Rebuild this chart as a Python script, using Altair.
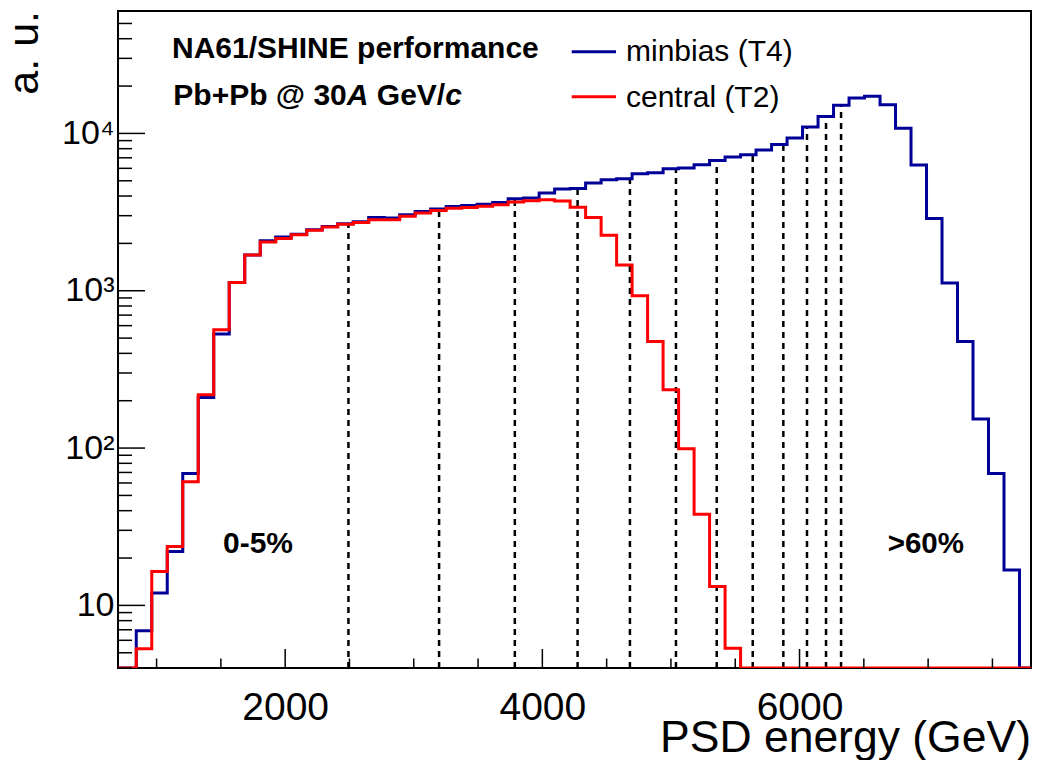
import altair as alt
import pandas as pd

# ---------------- data ----------------
X_MIN, X_MAX = 700, 7800
Y_MIN, Y_MAX = 4, 60000
BIN_START = 842
BIN_WIDTH = 120.5

minbias_counts = [6.9, 12, 22, 69, 210, 530, 1130, 1690, 2080, 2200,
                  2290, 2440, 2560, 2670, 2750, 2920, 2900, 3040, 3190, 3310,
                  3430, 3480, 3550, 3640, 3850, 3880, 4180, 4430, 4470, 4840,
                  5070, 5150, 5550, 5620, 5970, 6020, 6330, 6730, 7080, 7320,
                  7850, 8500, 9350, 11000, 12830, 15100, 16800, 17200, 15200, 10800,
                  6300, 2880, 1120, 476, 153, 69, 16.8]

central_counts = [5.3, 16.4, 23.7, 61, 218, 565, 1130, 1690, 2040, 2150,
                  2270, 2420, 2540, 2650, 2720, 2830, 2830, 2970, 3120, 3240,
                  3340, 3380, 3440, 3520, 3660, 3730, 3790, 3720, 3400, 2920,
                  2250, 1460, 930, 476, 235, 99, 38, 13.2, 5.35]

centrality_cuts = [2492, 3197, 3786, 4274, 4681, 5039, 5356, 5636, 5874, 6058, 6206, 6323]

x_label_values = [2000, 4000, 6000]
x_minor_ticks = [1000, 1500, 2500, 3000, 3500, 4500, 5000, 5500, 6500, 7000, 7500]
y_major_ticks = [10, 100, 1000, 10000]
y_minor_ticks = [4, 5, 6, 7, 8, 9, 20, 30, 40, 50, 60, 70, 80, 90,
                 200, 300, 400, 500, 600, 700, 800, 900,
                 2000, 3000, 4000, 5000, 6000, 7000, 8000, 9000,
                 20000, 30000, 40000, 50000]

series_names = ["minbias (T4)", "central (T2)"]
series_colors = ["#000099", "#ff0000"]

# ---------------- geometry / style ----------------
W, H = 913, 657
FONT = "Liberation Sans"


def step_rows(counts, name):
    rows = [{"x": X_MIN, "y": Y_MIN, "s": name}]
    for i, c in enumerate(counts):
        rows.append({"x": BIN_START + i * BIN_WIDTH, "y": c, "s": name})
    rows.append({"x": BIN_START + len(counts) * BIN_WIDTH, "y": Y_MIN, "s": name})
    rows.append({"x": X_MAX, "y": Y_MIN, "s": name})
    return pd.DataFrame(rows)


def bin_value(counts, x):
    i = int((x - BIN_START) // BIN_WIDTH)
    return counts[i] if 0 <= i < len(counts) else Y_MIN


xs = alt.Scale(domain=[X_MIN, X_MAX], nice=False, zero=False)
ys = alt.Scale(type="log", domain=[Y_MIN, Y_MAX], nice=False)

x_axis = alt.Axis(values=x_label_values, ticks=False, domain=False, grid=False,
                  labelFontSize=39, labelFont=FONT, labelColor="black", format="d",
                  labelPadding=20, title=None, labelFlush=False)
y_axis = alt.Axis(values=y_major_ticks, ticks=False, domain=False, grid=False,
                  labelFontSize=34, labelFont=FONT, labelColor="black",
                  labelPadding=4, title=None,
                  labelExpr="datum.value == 10 ? '10' : datum.value == 100 ? '10²' : datum.value == 1000 ? '10³' : '10⁴'")

# dashed centrality cut lines
cuts_df = pd.DataFrame({"x": centrality_cuts,
                        "y": [Y_MIN] * len(centrality_cuts),
                        "y2": [bin_value(minbias_counts, c) for c in centrality_cuts]})
cuts = alt.Chart(cuts_df).mark_rule(color="black", strokeWidth=2.5, strokeDash=[6, 5]).encode(
    x=alt.X("x:Q", scale=xs, axis=x_axis),
    y=alt.Y("y:Q", scale=ys, axis=y_axis),
    y2="y2:Q",
)

hist_blue = alt.Chart(step_rows(minbias_counts, series_names[0])).mark_line(
    interpolate="step-after", color=series_colors[0], strokeWidth=3, clip=True).encode(
    x=alt.X("x:Q", scale=xs), y=alt.Y("y:Q", scale=ys))
hist_red = alt.Chart(step_rows(central_counts, series_names[1])).mark_line(
    interpolate="step-after", color=series_colors[1], strokeWidth=3, clip=True).encode(
    x=alt.X("x:Q", scale=xs), y=alt.Y("y:Q", scale=ys))

# inward ticks (ROOT style)
ytick_major = alt.Chart(pd.DataFrame({"y": y_major_ticks})).mark_rule(color="black", strokeWidth=1.5).encode(
    y=alt.Y("y:Q", scale=ys), x=alt.value(0), x2=alt.value(27))
ytick_minor = alt.Chart(pd.DataFrame({"y": y_minor_ticks})).mark_rule(color="black", strokeWidth=1.5).encode(
    y=alt.Y("y:Q", scale=ys), x=alt.value(0), x2=alt.value(14))
xtick_major = alt.Chart(pd.DataFrame({"x": x_label_values})).mark_rule(color="black", strokeWidth=1.5).encode(
    x=alt.X("x:Q", scale=xs), y=alt.value(H), y2=alt.value(H - 19))
xtick_minor = alt.Chart(pd.DataFrame({"x": x_minor_ticks})).mark_rule(color="black", strokeWidth=1.5).encode(
    x=alt.X("x:Q", scale=xs), y=alt.value(H), y2=alt.value(H - 9.5))

one = pd.DataFrame({"a": [0]})


def text(t, x, y, size, weight="normal", style="normal", align="left", angle=0):
    kw = dict(fontSize=size, font=FONT, fontWeight=weight, fontStyle=style,
              align=align, baseline="alphabetic", color="black")
    if angle:
        kw["angle"] = angle
    return alt.Chart(one).mark_text(**kw).encode(
        x=alt.value(x), y=alt.value(y), text=alt.value(t))


texts = [
    text("NA61/SHINE performance", 54, 47, 30, weight="bold"),
    text("Pb+Pb @ 30", 55.3, 94, 30, weight="bold"),
    text("A", 228.8, 94, 30, weight="bold", style="italic"),
    text("GeV/", 258.8, 94, 30, weight="bold"),
    text("c", 327.2, 94, 30, weight="bold", style="italic"),
    text("minbias (T4)", 508, 50, 30),
    text("central (T2)", 508, 95.7, 30),
    text("0-5%", 105, 542.3, 30, weight="bold"),
    text(">60%", 769.7, 542.3, 29.5, weight="bold"),
    text("PSD energy (GeV)", W, 741, 44.5, align="right"),
    text("a. u.", -80, 0, 43, align="right", angle=270),
]

legend_lines = [
    alt.Chart(one).mark_rule(color=series_colors[0], strokeWidth=3).encode(
        x=alt.value(453.7), x2=alt.value(498), y=alt.value(40.7)),
    alt.Chart(one).mark_rule(color=series_colors[1], strokeWidth=3).encode(
        x=alt.value(453.7), x2=alt.value(498), y=alt.value(85.7)),
]

chart = alt.layer(
    cuts, hist_blue, hist_red, ytick_major, ytick_minor, xtick_major, xtick_minor,
    *legend_lines, *texts
).properties(
    width=W, height=H,
    autosize=alt.AutoSizeParams(type="none"),
    padding={"left": 118, "top": 11, "right": 7, "bottom": 92},
    background="white",
).configure_view(stroke="black", strokeWidth=2)

chart.save("out.html", embed_options={"renderer": "svg", "actions": False})
